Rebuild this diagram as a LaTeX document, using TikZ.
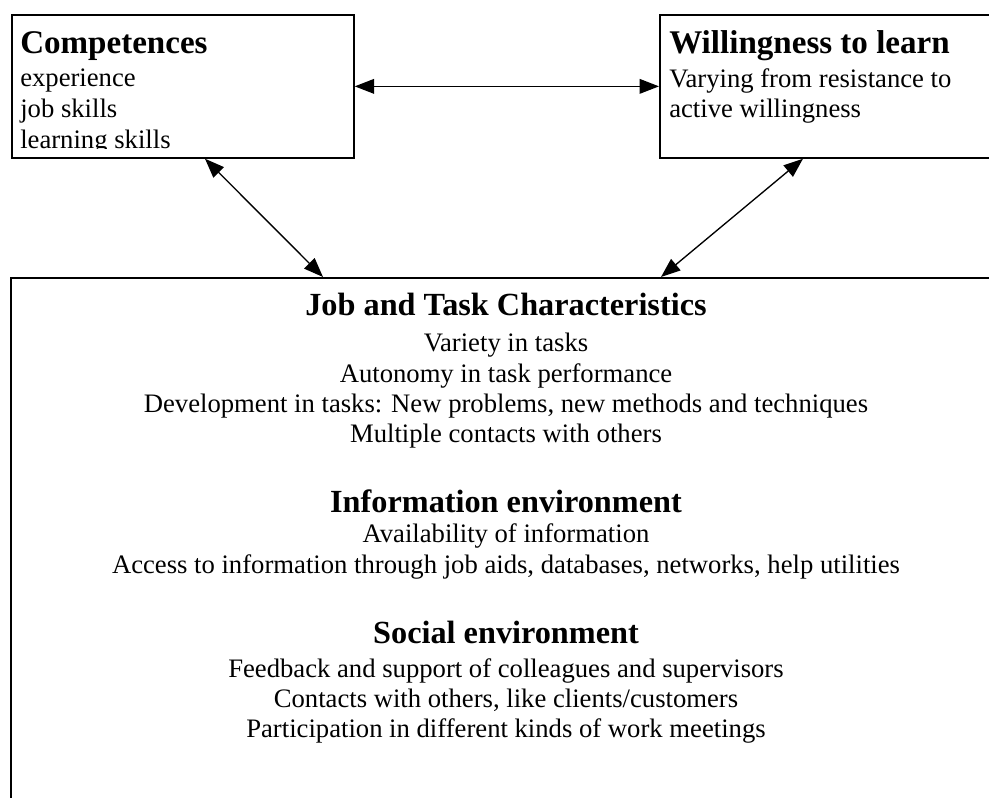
\documentclass[tikz,border=0pt]{standalone}
\usepackage{fontspec}
\setmainfont{Liberation Serif}
\usetikzlibrary{arrows.meta,calc}
\begin{document}
\begin{tikzpicture}[x=0.75pt,y=-0.75pt,
  frame/.style={draw=black,line width=1.3pt,inner sep=0pt,anchor=north west},
  boxtitle/.style={anchor=base west,inner sep=0pt,font=\fontsize{24.8}{28}\selectfont\bfseries},
  boxbody/.style={anchor=base west,inner sep=0pt,align=left,font=\fontsize{20}{23}\selectfont},
  envtitle/.style={anchor=base,inner sep=0pt,font=\fontsize{24.2}{28}\selectfont\bfseries},
  envbody/.style={anchor=base,inner sep=0pt,align=center,font=\fontsize{20}{22.75}\selectfont},
  tip/.tip={Triangle[length=14.5pt,width=11pt]},
  link/.style={line width=1pt,tip-tip}
]
\useasboundingbox (0,0) rectangle (989,798);
\clip (0,0) rectangle (989,798);

% the three frames
\node[frame,minimum width=256.5pt,minimum height=107.25pt] (comp) at (11,14) {};
\node[frame,minimum width=255.75pt,minimum height=107.25pt] (will) at (659,14) {};
\node[frame,minimum width=746.25pt,minimum height=399.75pt] (job) at (10,277) {};

% Competences (the last line is cut by the frame's text area)
% multi-line nodes are placed by the baseline of their last line
\begin{scope}
  \clip (comp.north west) rectangle ($(comp.south east)+(0,-10)$);
  \node[boxtitle] (compT) at (20,54) {Competences};
  \node[boxbody] (compB) at (20,148.3) {experience\\job skills\\learning skills};
\end{scope}

% Willingness to learn
\node[boxtitle] (willT) at (669,54) {Willingness to learn};
\node[boxbody] (willB) at (669,117.7) {Varying from resistance to\\active willingness};

% Job and task characteristics
\node[envtitle] (jobT) at (506,316) {Job and Task Characteristics};
\node[envbody] (jobB) at (506,443) {Variety in tasks\\Autonomy in task performance\\Development in tasks: New problems, new methods and techniques\\Multiple contacts with others};

\node[envtitle] (infoT) at (506,512) {Information environment};
\node[envbody] (infoB) at (506,573.3) {Availability of information\\Access to information through job aids, databases, networks, help utilities};

\node[envtitle] (socT) at (506,643) {Social environment};
\node[envbody] (socB) at (506,737.7) {Feedback and support of colleagues and supervisors\\Contacts with others, like clients/customers\\Participation in different kinds of work meetings};

% two-way links
\draw[link] (comp.east) -- (will.west);
\draw[link] ($(comp.south west)+(194,0)$) -- ($(job.north west)+(313,0)$);
\draw[link] ($(will.south west)+(144,0)$) -- ($(job.north west)+(651,0)$);
\end{tikzpicture}
\end{document}
